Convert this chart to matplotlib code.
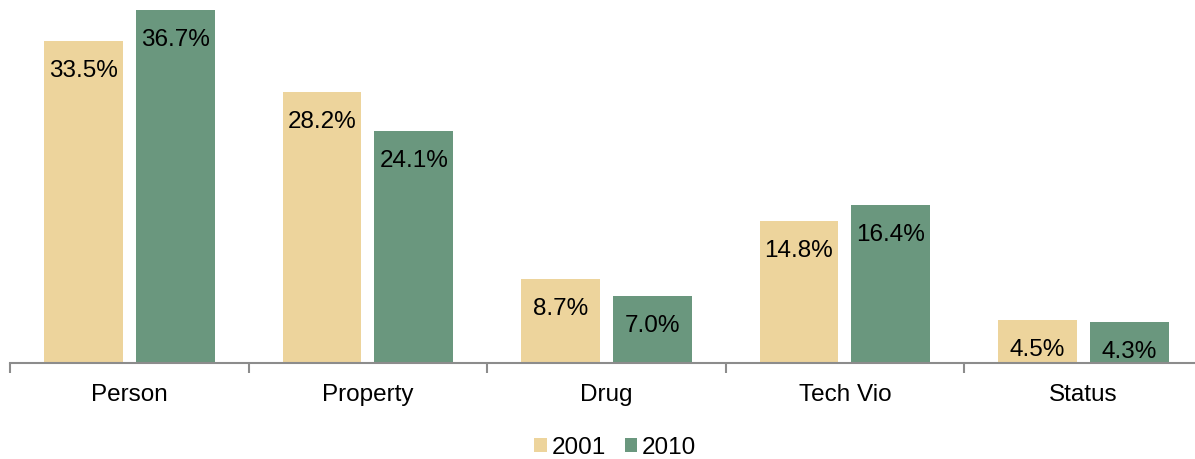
import matplotlib.pyplot as plt
import numpy as np

plt.rcParams['font.family'] = ['Liberation Sans', 'DejaVu Sans']

# data
categories = ["Person", "Property", "Drug", "Tech Vio", "Status"]
vals_2001 = [33.5, 28.2, 8.7, 14.8, 4.5]
vals_2010 = [36.7, 24.1, 7.0, 16.4, 4.3]
series_names = ["2001", "2010"]

col_2001 = "#EDD49C"
col_2010 = "#6A977E"

fig = plt.figure(figsize=(11.95, 4.59), dpi=100)
ax = fig.add_axes([0.0084, 0.209, 0.998, 0.769])

x = np.arange(len(categories))
w = 0.33
off = 0.1926
b1 = ax.bar(x - off, vals_2001, w, color=col_2001, label=series_names[0])
b2 = ax.bar(x + off, vals_2010, w, color=col_2010, label=series_names[1])

# value labels inside the top of each bar
for bars, vals in [(b1, vals_2001), (b2, vals_2010)]:
    for r, v in zip(bars, vals):
        ax.annotate(f"{v:.1f}%", (r.get_x() + r.get_width() / 2, v),
                    xytext=(0, -30), textcoords="offset pixels",
                    ha="center", va="center", fontsize=17.5, color="black")

ax.set_xlim(-0.5, 4.5)
ax.set_ylim(0, 36.7)

for s in ["top", "right", "left"]:
    ax.spines[s].set_visible(False)
ax.spines["bottom"].set_color("#8C8C8C")
ax.spines["bottom"].set_linewidth(1.5)

ax.set_yticks([])
ax.set_xticks(np.arange(-0.5, 5, 1.0))
ax.set_xticklabels([])
ax.set_xticks(x, minor=True)
ax.set_xticklabels(categories, minor=True, fontsize=17.5)
ax.tick_params(axis="x", which="major", length=7, width=1.5, color="#8C8C8C", direction="out")
ax.tick_params(axis="x", which="minor", length=0, pad=15)

fig.legend(handles=[b1, b2], labels=series_names, loc="center", bbox_to_anchor=(0.515, 0.024),
           ncol=2, frameon=False, fontsize=17.5, handlelength=0.5, handleheight=0.5,
           handletextpad=0.2, columnspacing=0.8)

fig.savefig("out.png", dpi=100)
